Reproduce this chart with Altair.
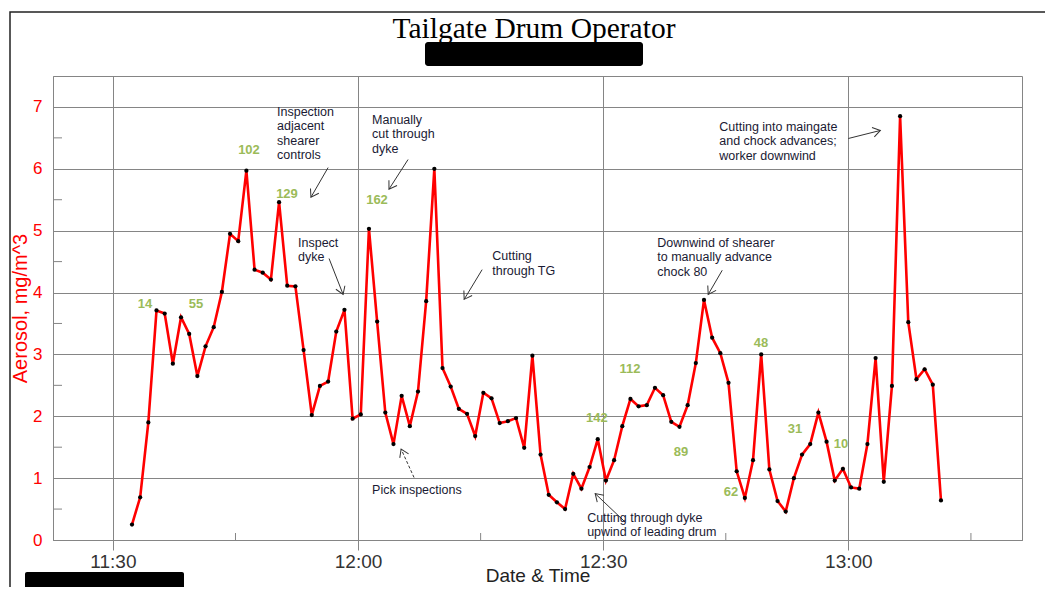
import math
import altair as alt
import pandas as pd

# ---------------- data ----------------
start_time = "2020-01-01 11:32:20"   # first sample, samples every minute
aerosol = [0.25, 0.69, 1.90, 3.71, 3.66, 2.85, 3.60, 3.33, 2.65, 3.13,
           3.44, 4.01, 4.95, 4.83, 5.97, 4.37, 4.32, 4.21, 5.46, 4.11,
           4.10, 3.07, 2.02, 2.49, 2.56, 3.37, 3.72, 1.96, 2.03, 5.03,
           3.53, 2.06, 1.55, 2.33, 1.84, 2.40, 3.86, 6.00, 2.78, 2.48,
           2.12, 2.04, 1.68, 2.38, 2.29, 1.89, 1.92, 1.97, 1.49, 2.98,
           1.38, 0.73, 0.61, 0.50, 1.07, 0.83, 1.18, 1.63, 0.96, 1.29,
           1.84, 2.28, 2.16, 2.18, 2.46, 2.34, 1.91, 1.83, 2.18, 2.86,
           3.88, 3.27, 3.02, 2.54, 1.11, 0.68, 1.29, 3.00, 1.14, 0.63,
           0.46, 1.00, 1.38, 1.55, 2.06, 1.59, 0.96, 1.15, 0.85, 0.83,
           1.55, 2.94, 0.94, 2.49, 6.85, 3.52, 2.60, 2.76, 2.51, 0.64]

label_text = ["14", "55", "102", "129", "162", "142", "112", "89", "62", "48", "31", "10"]
label_time = ["11:33:55", "11:40:10", "11:46:39", "11:51:18", "12:02:19", "12:29:14",
              "12:33:17", "12:39:31", "12:45:38", "12:49:19", "12:53:28", "12:59:06"]
label_value = [3.82, 3.82, 6.31, 5.60, 5.49, 1.97, 2.76, 1.42, 0.77, 3.19, 1.80, 1.55]

note_text = [
    "Inspection\nadjacent\nshearer\ncontrols",
    "Manually\ncut  through\ndyke",
    "Inspect\ndyke",
    "Cutting\nthrough TG",
    "Pick inspections",
    "Cutting  through  dyke\nupwind of leading drum",
    "Downwind of shearer\nto manually advance\nchock 80",
    "Cutting into maingate\nand chock advances;\nworker downwind",
]
note_time = ["11:50:05", "12:01:43", "11:52:39", "12:16:25", "12:01:43", "12:28:02", "12:36:37", "12:44:12"]
note_value = [7.02, 6.89, 4.90, 4.68, 0.90, 0.46, 4.90, 6.78]

arrow_from_time = ["11:56:20", "11:56:27", "12:06:07", "12:15:11", "12:06:51", "12:32:41", "12:44:34", "13:00:00"]
arrow_from_value = [6.02, 4.55, 6.15, 4.37, 1.01, 0.29, 4.36, 6.49]
arrow_to_time = ["11:54:14", "11:58:10", "12:03:47", "12:12:59", "12:05:16", "12:29:01", "12:42:51", "13:03:55"]
arrow_to_value = [5.54, 3.97, 5.67, 3.89, 1.47, 0.75, 3.97, 6.62]
arrow_dashed = [False, False, False, False, True, False, False, False]

x_ticks = ["11:30", "12:00", "12:30", "13:00"]
x_minor = ["11:45", "12:15", "12:45", "13:15"]
y_ticks = [0, 1, 2, 3, 4, 5, 6, 7]
y_minor = [0.5, 1.5, 2.5, 3.5, 4.5, 5.5, 6.5]

title_text = "Tailgate Drum Operator"

# ---------------- layout ----------------
W, H = 969, 464
DAY = "2020-01-01T"
X_DOM = ("11:22:40", "13:21:15")
Y_DOM = (0, 7.5)


def ts(s):
    return pd.Timestamp(DAY + (s if s.count(":") == 2 else s + ":00"))


def dt(s):
    t = ts(s)
    return alt.DateTime(year=2020, month=1, date=1, hours=t.hour, minutes=t.minute, seconds=t.second)


dom_minutes = (ts(X_DOM[1]) - ts(X_DOM[0])).total_seconds() / 60
px_per_min = W / dom_minutes
px_per_unit = H / (Y_DOM[1] - Y_DOM[0])

FONT = "Liberation Sans"
GRID = "#858585"

x_scale = alt.Scale(domain=[dt(X_DOM[0]), dt(X_DOM[1])])
y_scale = alt.Scale(domain=list(Y_DOM), nice=False, zero=False)

x_axis = alt.Axis(values=[dt(v) for v in x_ticks], format="%H:%M", grid=True,
                  gridColor=GRID, tickColor=GRID, tickSize=10, domainColor=GRID,
                  labelFont=FONT, labelFontSize=19, labelColor="#333333", labelPadding=2,
                  titleFont=FONT, titleFontSize=19, titleFontWeight="normal",
                  titleColor="#222222", titleBaseline="alphabetic", titleY=41)
y_axis = alt.Axis(values=y_ticks, grid=True, gridColor=GRID, tickSize=0, domainColor=GRID,
                  labelFont=FONT, labelFontSize=17, labelColor="#ff0000", labelPadding=11,
                  titleFont=FONT, titleFontSize=20, titleFontWeight="normal",
                  titleColor="#ff0000", titlePadding=2)

X_TITLE = "Date & Time"
Y_TITLE = "Aerosol, mg/m^3"


def X(field):
    return alt.X(field, type="temporal", scale=x_scale, axis=x_axis, title=X_TITLE)


def Y(field):
    return alt.Y(field, type="quantitative", scale=y_scale, axis=y_axis, title=Y_TITLE)


# ---------------- tables ----------------
series = pd.DataFrame({
    "time": pd.date_range(start_time, periods=len(aerosol), freq="min"),
    "value": aerosol,
})
labels = pd.DataFrame({"time": [ts(t) for t in label_time], "value": label_value, "text": label_text})
notes = pd.DataFrame({"time": [ts(t) for t in note_time], "value": note_value, "text": note_text})

angles = []
for t0, v0, t1, v1 in zip(arrow_from_time, arrow_from_value, arrow_to_time, arrow_to_value):
    dx = (ts(t1) - ts(t0)).total_seconds() / 60 * px_per_min
    dy = -(v1 - v0) * px_per_unit
    angles.append(math.degrees(math.atan2(dy, dx)) % 360)
arrows = pd.DataFrame({
    "t0": [ts(t) for t in arrow_from_time], "v0": arrow_from_value,
    "t1": [ts(t) for t in arrow_to_time], "v1": arrow_to_value,
    "ang": angles, "dashed": arrow_dashed,
})
xminor = pd.DataFrame({"time": [ts(t) for t in x_minor]})
yminor = pd.DataFrame({"value": y_minor})
one = pd.DataFrame({"text": [title_text]})

# ---------------- layers ----------------
line = alt.Chart(series).mark_line(color="#ff0000", strokeWidth=2.6).encode(x=X("time"), y=Y("value"))
dots = alt.Chart(series).mark_circle(color="black", size=18, opacity=1).encode(x=X("time"), y=Y("value"))

xminor_l = alt.Chart(xminor).mark_rule(color=GRID, strokeWidth=1).encode(
    x=X("time"), y=alt.value(H - 7), y2=alt.value(H))
yminor_l = alt.Chart(yminor).mark_rule(color=GRID, strokeWidth=1).encode(
    y=Y("value"), x=alt.value(0), x2=alt.value(9))

lab = alt.Chart(labels).mark_text(font=FONT, fontSize=13, fontWeight="bold", color="#9bbb59",
                                   align="center", baseline="middle").encode(
    x=X("time"), y=Y("value"), text="text:N")
note = alt.Chart(notes).mark_text(font=FONT, fontSize=12.5, color="#1a1a33", align="left",
                                   baseline="top", lineBreak="\n", lineHeight=14.5).encode(
    x=X("time"), y=Y("value"), text="text:N")

solid = alt.Chart(arrows).transform_filter("!datum.dashed").mark_rule(color="#333333", strokeWidth=1).encode(
    x=X("t0"), y=Y("v0"), x2="t1:T", y2="v1:Q")
dashed = alt.Chart(arrows).transform_filter("datum.dashed").mark_rule(
    color="#333333", strokeWidth=1, strokeDash=[3, 2]).encode(
    x=X("t0"), y=Y("v0"), x2="t1:T", y2="v1:Q")
heads = alt.Chart(arrows).mark_point(shape="M-1,-0.65L0,0L-1,0.65", filled=False, color="#333333",
                                      strokeWidth=1, size=220, opacity=1).encode(
    x=X("t1"), y=Y("v1"), angle=alt.Angle("ang:Q", scale=None))

title = alt.Chart(one).mark_text(font="Liberation Serif", fontSize=29.5, color="black",
                                  align="center", baseline="middle").encode(
    text="text:N", x=alt.value(481), y=alt.value(-47))

box_top = alt.Chart(one).mark_rect(color="black", cornerRadius=3).encode(
    x=alt.value(372), x2=alt.value(590), y=alt.value(-34), y2=alt.value(-10))
box_bottom = alt.Chart(one).mark_rect(color="black", cornerRadius=2).encode(
    x=alt.value(-28), x2=alt.value(131), y=alt.value(496), y2=alt.value(520))
frame = alt.Chart(one).mark_rect(fill=None, stroke="#222222", strokeWidth=1.5).encode(
    x=alt.value(-43), x2=alt.value(2000), y=alt.value(-64), y2=alt.value(2000))

chart = alt.layer(
    frame, xminor_l, yminor_l, line, dots, solid, dashed, heads, lab, note, title, box_top, box_bottom
).properties(
    width=W, height=H,
    autosize=alt.AutoSizeParams(type="none"),
    padding={"left": 45, "top": 68, "right": 23, "bottom": 47},
    background="white",
).configure_view(stroke=GRID, strokeWidth=1)

chart.save("out.html", embed_options={"renderer": "svg", "actions": False})
